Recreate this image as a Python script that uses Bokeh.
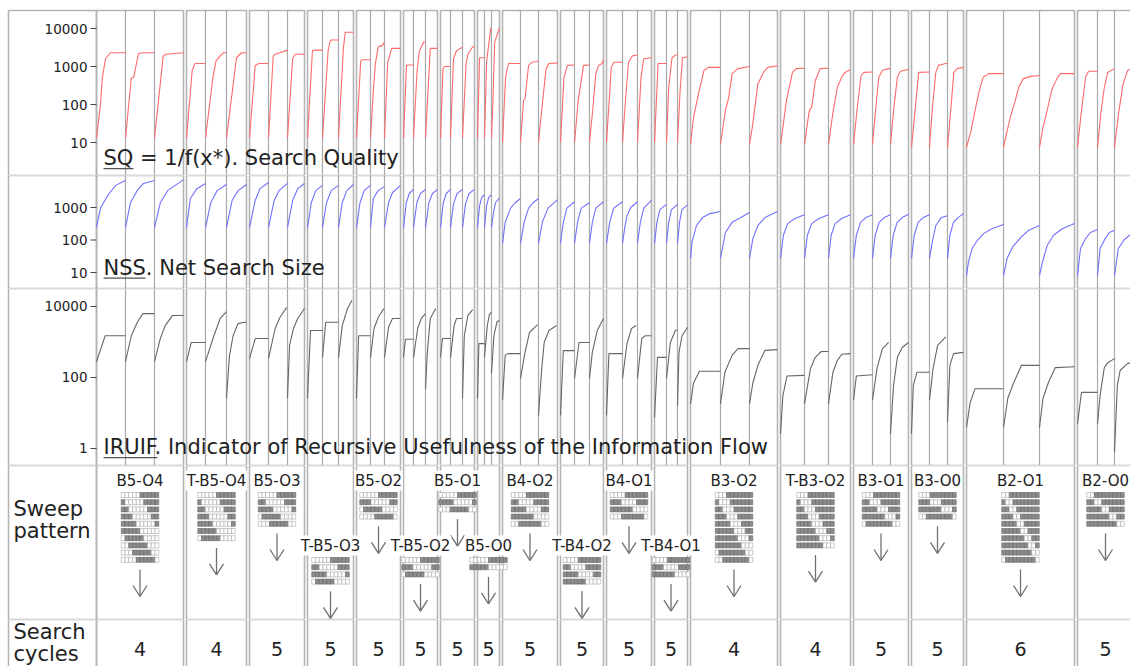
from bokeh.plotting import figure
from bokeh.layouts import column
from bokeh.models import Range1d
from bokeh.embed import file_html
from bokeh.resources import INLINE
from bokeh.core.properties import value

# ---------------- data ----------------
group_labels = ["B5-O4", "T-B5-O4", "B5-O3", "T-B5-O3", "B5-O2", "T-B5-O2", "B5-O1", "B5-O0",
                "B4-O2", "T-B4-O2", "B4-O1", "T-B4-O1", "B3-O2", "T-B3-O2", "B3-O1", "B3-O0",
                "B2-O1", "B2-O0"]
search_cycles = [4, 4, 5, 5, 5, 5, 5, 5, 5, 5, 5, 5, 4, 4, 5, 5, 6, 5]
block_size = [5, 5, 5, 5, 5, 5, 5, 5, 4, 4, 4, 4, 3, 3, 3, 3, 2, 2]
overlap = [4, 4, 3, 3, 2, 2, 1, 0, 2, 2, 1, 1, 2, 2, 1, 0, 1, 0]
pattern_rows = [10, 7, 5, 4, 4, 3, 3, 2, 5, 4, 4, 3, 10, 8, 5, 4, 10, 5]
label_lowered = [0, 0, 0, 1, 0, 1, 0, 1, 0, 1, 0, 1, 0, 0, 0, 0, 0, 0]

# length of each of the three runs per configuration (time units)
run_widths = [[29, 29, 29], [19, 21, 20], [19, 19, 17], [15, 16, 15], [14, 14, 16], [10, 12, 12],
              [10, 12, 12], [7, 7, 8], [18, 18, 19], [14, 15, 14], [16, 15, 14], [12, 11, 10],
              [30, 29, 28], [24, 24, 22], [19, 18, 18], [18, 18, 16], [37, 36, 35], [20, 17, 19]]

sq_ticks = [10, 100, 1000, 10000]
nss_ticks = [10, 100, 1000]
iruif_ticks = [1, 100, 10000]

# (fraction of run, value) per run
sq_runs = [
    [(0, 13), (0.14, 107), (0.2, 500), (0.31, 1600), (0.48, 2300), (1, 2300)],
    [(0, 13), (0.2, 500), (0.28, 520), (0.45, 2200), (0.6, 2300), (1, 2300)],
    [(0, 13), (0.3, 1900), (0.4, 2100), (0.7, 2200), (1, 2300)],
    [(0, 13), (0.3, 800), (0.45, 1200), (1, 1200)],
    [(0, 13), (0.35, 500), (0.5, 1400), (0.7, 1900), (0.85, 2300), (1, 2300)],
    [(0, 13), (0.5, 1700), (0.75, 2300), (1, 2300)],
    [(0, 13), (0.3, 1070), (0.5, 1200), (1, 1200)],
    [(0, 13), (0.25, 1900), (0.35, 2100), (1, 2700)],
    [(0, 13), (0.3, 1600), (0.45, 2100), (1, 2100)],
    [(0, 13), (0.33, 2600), (0.45, 2700), (1, 2700)],
    [(0, 13), (0.35, 2600), (0.5, 5000), (1, 5000)],
    [(0, 13), (0.33, 3200), (0.45, 8000), (1, 8000)],
    [(0, 13), (0.3, 1400), (0.4, 1500), (1, 1500)],
    [(0, 13), (0.2, 230), (0.35, 1200), (0.55, 3300), (0.85, 3600), (1, 4400)],
    [(0, 13), (0.2, 1300), (0.45, 3000), (1, 3000)],
    [(0, 13), (0.3, 1070), (0.5, 1100), (1, 1100)],
    [(0, 13), (0.3, 800), (0.5, 2600), (0.85, 4400), (1, 4400)],
    [(0, 13), (0.2, 200), (0.4, 3000), (1, 3000)],
    [(0, 13), (0.25, 880), (0.4, 1000), (1, 1000)],
    [(0, 13), (0.25, 1600), (0.5, 2600), (0.8, 3000), (1, 3200)],
    [(0, 13), (0.3, 1200), (0.45, 2100), (0.85, 3300), (1, 3300)],
    [(0, 13), (0.3, 1700), (1, 1700)],
    [(0, 13), (0.3, 1300), (0.55, 3200), (0.9, 10500), (1, 10500)],
    [(0, 13), (0.15, 80), (0.4, 4400), (1, 10500)],
    [(0, 10), (0.17, 520), (0.33, 1200), (1, 1200)],
    [(0, 10), (0.17, 130), (0.25, 140), (0.45, 1070), (0.65, 1300), (1, 1400)],
    [(0, 10), (0.2, 100), (0.4, 880), (0.55, 1200), (1, 1250)],
    [(0, 10), (0.25, 520), (0.5, 1070), (1, 1100)],
    [(0, 10), (0.25, 130), (0.45, 430), (0.6, 1070), (1, 1100)],
    [(0, 10), (0.25, 85), (0.45, 650), (0.65, 1070), (0.9, 1200), (1, 1500)],
    [(0, 10), (0.3, 950), (0.45, 1300), (1, 1300)],
    [(0, 10), (0.2, 130), (0.4, 1300), (0.65, 1900), (1, 2000)],
    [(0, 10), (0.25, 520), (0.45, 1600), (1, 1700)],
    [(0, 10), (0.3, 1200), (1, 1200)],
    [(0, 10), (0.2, 280), (0.5, 1700), (0.8, 2000), (1, 2000)],
    [(0, 10), (0.25, 210), (0.5, 1700), (1, 1800)],
    [(0, 9), (0.1, 45), (0.27, 200), (0.45, 800), (0.6, 950), (1, 950)],
    [(0, 9), (0.17, 70), (0.28, 150), (0.4, 650), (0.6, 880), (1, 1000)],
    [(0, 9), (0.1, 25), (0.3, 350), (0.5, 700), (0.65, 950), (1, 1050)],
    [(0, 8.8), (0.1, 25), (0.25, 130), (0.5, 700), (0.65, 880), (1, 900)],
    [(0, 8.8), (0.2, 70), (0.3, 85), (0.45, 430), (0.65, 880), (1, 900)],
    [(0, 8.8), (0.2, 60), (0.4, 280), (0.6, 520), (0.75, 700), (1, 830)],
    [(0, 8.8), (0.2, 85), (0.4, 580), (0.55, 700), (1, 720)],
    [(0, 8.8), (0.17, 70), (0.35, 520), (0.55, 800), (0.9, 880), (1, 900)],
    [(0, 8.8), (0.17, 70), (0.38, 520), (0.55, 750), (1, 830)],
    [(0, 7.5), (0.2, 70), (0.4, 700), (1, 720)],
    [(0, 7.5), (0.15, 70), (0.35, 700), (0.5, 1070), (0.9, 1200), (1, 1200)],
    [(0, 7.5), (0.2, 70), (0.4, 700), (0.6, 880), (1, 950)],
    [(0, 7.5), (0.12, 20), (0.25, 85), (0.35, 240), (0.45, 520), (0.6, 650), (1, 650)],
    [(0, 7.5), (0.1, 20), (0.2, 50), (0.33, 130), (0.42, 280), (0.55, 480), (0.75, 550), (1, 580)],
    [(0, 7.5), (0.1, 25), (0.22, 70), (0.36, 260), (0.5, 480), (0.6, 650), (1, 650)],
    [(0, 7.5), (0.2, 70), (0.4, 520), (0.55, 750), (1, 750)],
    [(0, 7.5), (0.2, 60), (0.4, 280), (0.6, 700), (1, 880)],
    [(0, 7.5), (0.22, 60), (0.45, 350), (0.7, 800), (1, 900)],
]

nss_runs = [
    [(0, 240), (0.14, 970), (0.38, 2300), (0.66, 4800), (1, 6800)],
    [(0, 240), (0.17, 1400), (0.4, 3300), (0.62, 5500), (1, 6800)],
    [(0, 240), (0.2, 1400), (0.45, 3300), (1, 7200)],
    [(0, 240), (0.2, 1900), (0.55, 3800), (1, 5500)],
    [(0, 240), (0.25, 1400), (0.55, 3300), (1, 5100)],
    [(0, 240), (0.28, 1650), (0.58, 3300), (1, 5100)],
    [(0, 240), (0.3, 1650), (0.55, 3800), (1, 5900)],
    [(0, 240), (0.3, 1650), (0.55, 3300), (1, 5500)],
    [(0, 240), (0.3, 1650), (0.6, 3800), (1, 5500)],
    [(0, 240), (0.25, 1400), (0.55, 3300), (1, 4800)],
    [(0, 240), (0.25, 1400), (0.55, 3300), (1, 4800)],
    [(0, 240), (0.25, 1400), (0.55, 3300), (1, 5100)],
    [(0, 240), (0.25, 1400), (0.55, 3300), (1, 4800)],
    [(0, 240), (0.2, 1900), (0.55, 3300), (1, 4400)],
    [(0, 240), (0.25, 1400), (0.5, 2900), (1, 4800)],
    [(0, 240), (0.28, 1400), (0.58, 2700), (1, 3600)],
    [(0, 240), (0.28, 1400), (0.58, 2700), (1, 3600)],
    [(0, 240), (0.28, 1400), (0.58, 2700), (1, 3600)],
    [(0, 240), (0.28, 1400), (0.58, 2700), (1, 3600)],
    [(0, 240), (0.25, 1300), (0.55, 2700), (1, 3600)],
    [(0, 240), (0.25, 1300), (0.55, 2700), (1, 3600)],
    [(0, 240), (0.3, 1150), (0.6, 2000), (1, 2500)],
    [(0, 240), (0.3, 1150), (0.6, 2000), (1, 2500)],
    [(0, 240), (0.25, 700), (0.5, 1400), (1, 2000)],
    [(0, 78), (0.15, 350), (0.45, 960), (0.7, 1400), (1, 1900)],
    [(0, 78), (0.2, 350), (0.45, 960), (0.7, 1400), (1, 1900)],
    [(0, 78), (0.2, 350), (0.5, 960), (0.75, 1300), (1, 1750)],
    [(0, 78), (0.2, 350), (0.45, 960), (1, 1500)],
    [(0, 78), (0.2, 350), (0.45, 960), (1, 1400)],
    [(0, 78), (0.2, 350), (0.45, 960), (1, 1500)],
    [(0, 78), (0.2, 350), (0.45, 960), (1, 1500)],
    [(0, 78), (0.15, 240), (0.3, 560), (0.55, 1000), (1, 1500)],
    [(0, 78), (0.2, 350), (0.45, 960), (1, 1650)],
    [(0, 78), (0.2, 350), (0.45, 860), (1, 1250)],
    [(0, 78), (0.2, 350), (0.45, 860), (1, 1250)],
    [(0, 78), (0.2, 350), (0.45, 860), (1, 1200)],
    [(0, 27), (0.05, 85), (0.2, 280), (0.4, 490), (0.65, 650), (1, 750)],
    [(0, 27), (0.17, 170), (0.4, 350), (0.7, 490), (1, 700)],
    [(0, 27), (0.12, 110), (0.3, 280), (0.55, 490), (1, 750)],
    [(0, 27), (0.12, 140), (0.3, 320), (0.6, 460), (1, 600)],
    [(0, 27), (0.12, 140), (0.3, 320), (0.6, 460), (1, 600)],
    [(0, 27), (0.12, 140), (0.3, 320), (0.6, 460), (1, 600)],
    [(0, 27), (0.15, 140), (0.37, 350), (0.65, 490), (1, 600)],
    [(0, 27), (0.15, 140), (0.37, 350), (0.65, 490), (1, 600)],
    [(0, 27), (0.15, 140), (0.37, 350), (0.65, 490), (1, 620)],
    [(0, 27), (0.15, 140), (0.37, 350), (0.65, 490), (1, 600)],
    [(0, 27), (0.15, 85), (0.35, 280), (0.65, 490), (1, 560)],
    [(0, 27), (0.15, 140), (0.37, 350), (0.65, 490), (1, 650)],
    [(0, 8), (0.05, 20), (0.15, 55), (0.3, 100), (0.47, 160), (0.7, 225), (1, 300)],
    [(0, 8), (0.1, 27), (0.25, 60), (0.48, 120), (0.7, 200), (1, 280)],
    [(0, 8), (0.08, 20), (0.22, 68), (0.4, 140), (0.66, 225), (1, 320)],
    [(0, 8), (0.15, 55), (0.4, 110), (0.65, 170), (1, 210)],
    [(0, 8), (0.15, 55), (0.45, 110), (0.7, 170), (1, 200)],
    [(0, 8), (0.2, 55), (0.5, 100), (0.9, 160), (1, 170)],
]

iruif_runs = [
    [(0, 280), (0.3, 1500), (1, 1500)],
    [(0, 280), (0.2, 1500), (0.4, 3500), (0.6, 6300), (1, 6300)],
    [(0, 280), (0.2, 1250), (0.37, 2900), (0.62, 5600), (1, 5600)],
    [(0, 280), (0.25, 970), (1, 970)],
    [(0, 280), (0.4, 1500), (0.7, 4600), (1, 7200)],
    [(0, 26), (0.15, 420), (0.33, 1500), (0.57, 3300), (0.9, 3600), (1, 3600)],
    [(0, 340), (0.3, 1250), (1, 1250)],
    [(0, 340), (0.35, 2400), (0.6, 4900), (0.95, 9300)],
    [(0, 26), (0.12, 800), (0.35, 2400), (0.6, 4600), (1, 8800)],
    [(0, 26), (0.2, 2100), (1, 2100)],
    [(0, 370), (0.2, 3600), (1, 3600)],
    [(0, 370), (0.25, 2900), (0.6, 8800), (0.9, 15000)],
    [(0, 26), (0.15, 1500), (1, 1500)],
    [(0, 370), (0.25, 2400), (0.55, 4900), (0.95, 8800)],
    [(0, 370), (0.25, 2600), (0.5, 4600), (1, 4600)],
    [(0, 370), (0.2, 1200), (1, 1200)],
    [(0, 370), (0.35, 2400), (0.65, 4600), (1, 6300)],
    [(0, 48), (0.15, 510), (0.4, 4600), (0.85, 8800)],
    [(0, 370), (0.2, 1250), (1, 1250)],
    [(0, 370), (0.3, 2900), (0.5, 4600), (0.95, 4600)],
    [(0, 26), (0.15, 1500), (0.45, 5600), (0.85, 8200)],
    [(0, 26), (0.2, 900), (1, 900)],
    [(0, 370), (0.4, 2900), (0.7, 5900), (1, 7000)],
    [(0, 130), (0.3, 1500), (0.7, 3800), (1, 4000)],
    [(0, 23), (0.15, 420), (0.3, 470), (1, 470)],
    [(0, 94), (0.25, 510), (0.5, 1850), (0.95, 3100)],
    [(0, 8.5), (0.17, 180), (0.3, 970), (0.55, 2100), (0.95, 2900)],
    [(0, 8.5), (0.2, 570), (1, 570)],
    [(0, 94), (0.3, 970), (1, 970)],
    [(0, 94), (0.2, 510), (0.55, 2100), (1, 4600)],
    [(0, 8.5), (0.15, 470), (1, 470)],
    [(0, 94), (0.3, 900), (0.6, 2400), (0.9, 2900)],
    [(0, 94), (0.3, 1250), (0.55, 1500), (1, 1500)],
    [(0, 7.5), (0.25, 370), (1, 370)],
    [(0, 94), (0.35, 970), (0.8, 2100), (1, 2200)],
    [(0, 16), (0.15, 510), (0.45, 1500), (1, 2600)],
    [(0, 18), (0.1, 70), (0.3, 150), (1, 150)],
    [(0, 18), (0.15, 140), (0.4, 420), (0.6, 650), (1, 650)],
    [(0, 18), (0.12, 70), (0.3, 220), (0.55, 580), (1, 610)],
    [(0, 2.6), (0.1, 31), (0.27, 110), (1, 115)],
    [(0, 18), (0.25, 180), (0.45, 370), (0.7, 540), (1, 540)],
    [(0, 18), (0.2, 140), (0.4, 300), (0.6, 450), (1, 470)],
    [(0, 23), (0.15, 110), (1, 120)],
    [(0, 23), (0.25, 180), (0.55, 650), (0.9, 970)],
    [(0, 2.6), (0.17, 60), (0.38, 370), (0.65, 700), (1, 970)],
    [(0, 2.6), (0.1, 60), (0.3, 140), (1, 140)],
    [(0, 23), (0.2, 180), (0.45, 800), (0.9, 1400)],
    [(0, 5.5), (0.15, 220), (0.38, 470), (1, 510)],
    [(0, 3.9), (0.1, 20), (0.23, 48), (1, 48)],
    [(0, 3.9), (0.12, 26), (0.28, 70), (0.5, 220), (1, 220)],
    [(0, 3.9), (0.1, 26), (0.25, 70), (0.45, 190), (1, 200)],
    [(0, 5), (0.2, 38), (1, 38)],
    [(0, 5), (0.15, 31), (0.4, 190), (0.6, 260), (1, 340)],
    [(0, 0.8), (0.15, 60), (0.3, 160), (0.7, 250), (1, 260)],
]

# ---------------- layout / style ----------------
FONT = value("DejaVu Sans")
TXT = "#222222"
BORDER = "#b4b4b4"
BORDER_W = 1.6
SEP = "#a9a9a9"
SEP_W = 1.2
W = 1130
GAP = 3
LABEL_COL = -88
xr = Range1d(-96, 1034)

group_start, group_end, run_spans, run_bounds = [], [], [], []
x = 0
for widths in run_widths:
    group_start.append(x)
    for i, w in enumerate(widths):
        run_spans.append((x, w))
        x += w
        if i < len(widths) - 1:
            run_bounds.append(x)
    group_end.append(x)
    x += GAP
group_center = [(a + b) / 2 for a, b in zip(group_start, group_end)]


def make_panel(height, y0, y1, log):
    p = figure(width=W, height=height, x_range=xr, y_range=Range1d(y0, y1),
               y_axis_type="log" if log else "linear",
               x_axis_location=None, y_axis_location=None,
               output_backend="svg", toolbar_location=None, min_border=0, title=None)
    p.grid.visible = False
    p.outline_line_color = None
    p.background_fill_color = "white"
    p.border_fill_color = "white"
    return p


def boxes(p, bottom, top):
    p.quad(left=[LABEL_COL] + group_start, right=[0] + group_end, bottom=bottom, top=top,
           fill_color=None, line_color=BORDER, line_width=BORDER_W)


def curves(runs):
    xs, ys = [], []
    for (x0, w), pts in zip(run_spans, runs):
        xs.append([x0 + t * w for t, v in pts])
        ys.append([v for t, v in pts])
    return xs, ys


def metric_panel(height, lo, hi, box_top, ticks, runs, color, title, ul_chars, title_y, ul_y):
    p = make_panel(height, lo, hi, True)
    boxes(p, lo, box_top)
    p.segment(x0=run_bounds, x1=run_bounds, y0=lo, y1=box_top, line_color=SEP, line_width=SEP_W)
    xs, ys = curves(runs)
    p.multi_line(xs, ys, line_color=color, line_width=1.1)
    p.segment(x0=-6, x1=0, y0=ticks, y1=ticks, line_color="#444444", line_width=1)
    p.text(x=-9, y=ticks, text=[str(t) for t in ticks], text_align="right", text_baseline="middle",
           text_font=FONT, text_font_size="13.5px", text_color=TXT)
    p.text(x=[7], y=[title_y], text=[title], text_align="left", text_baseline="middle",
           text_font=FONT, text_font_size="21px", text_color=TXT)
    p.segment(x0=[7], x1=[7 + ul_chars], y0=[ul_y], y1=[ul_y], line_color="#555555", line_width=1.3)
    return p


p_sq = metric_panel(175, 10 ** 0.132, 10 ** 4.737, 10 ** 4.474, sq_ticks, sq_runs, "#ff6a6a",
                    "SQ = 1/f(x*). Search Quality", 30, 3.8, 2.05)
p_nss = metric_panel(113, 10 ** 0.508, 10 ** 3.985, 10 ** 3.985, nss_ticks, nss_runs, "#7070ff",
                     "NSS. Net Search Size", 42, 13.3, 6.7)
p_ir = metric_panel(177, 10 ** -0.479, 10 ** 4.507, 10 ** 4.507, iruif_ticks, iruif_runs, "#666666",
                    "IRUIF. Indicator of Recursive Usefulness of the Information Flow", 54, 1.07, 0.55)

# ---------------- sweep pattern row ----------------
SH = 154
p_sw = make_panel(SH, SH, 0, False)
boxes(p_sw, SH, 0)
p_sw.text(x=[-83, -83], y=[43, 65], text=["Sweep", "pattern"], text_baseline="middle",
          text_font=FONT, text_font_size="21px", text_color=TXT)

CW, RH, PITCH = 3.75, 5.0, 7.2
lab_y = [80 if low else 15 for low in label_lowered]
cx, cy, cfill, cline = [], [], [], []
ax0, ay0, ax1, ay1 = [], [], [], []
for g in range(len(group_labels)):
    top = lab_y[g] + 12
    stride = block_size[g] - overlap[g]
    for r in range(pattern_rows[g]):
        for c in range(10):
            cx.append(group_center[g] - 5 * CW + (c + 0.5) * CW)
            cy.append(top + r * PITCH + RH / 2)
            white = ((c - r * stride) % 10) < block_size[g]
            cfill.append("white" if white else "#8c8c8c")
            cline.append("#a8a8a8" if white else "#666666")
    a_top = top + pattern_rows[g] * PITCH + 5
    a_bot = a_top + 27
    xc = group_center[g]
    ax0 += [xc, xc - 7, xc + 7]
    ay0 += [a_top, a_bot - 11, a_bot - 11]
    ax1 += [xc, xc, xc]
    ay1 += [a_bot, a_bot, a_bot]

p_sw.rect(x=cx, y=cy, width=CW, height=RH, fill_color=cfill, line_color=cline, line_width=0.6)
p_sw.segment(x0=ax0, y0=ay0, x1=ax1, y1=ay1, line_color="#707070", line_width=1.3)
p_sw.text(x=group_center, y=lab_y, text=group_labels, text_align="center", text_baseline="middle",
          text_font=FONT, text_font_size="15px", text_color=TXT,
          background_fill_color="white", padding=1)

# ---------------- search cycles row ----------------
CH = 47
p_cy = make_panel(CH, CH, 0, False)
boxes(p_cy, 70, 0)
p_cy.text(x=[-83, -83], y=[12, 34], text=["Search", "cycles"], text_baseline="middle",
          text_font=FONT, text_font_size="21px", text_color=TXT)
p_cy.text(x=group_center, y=29, text=[str(c) for c in search_cycles], text_align="center",
          text_baseline="middle", text_font=FONT, text_font_size="19px", text_color=TXT)

layout = column(p_sq, p_nss, p_ir, p_sw, p_cy, spacing=0)
open("out.html", "w").write(file_html(layout, INLINE))
